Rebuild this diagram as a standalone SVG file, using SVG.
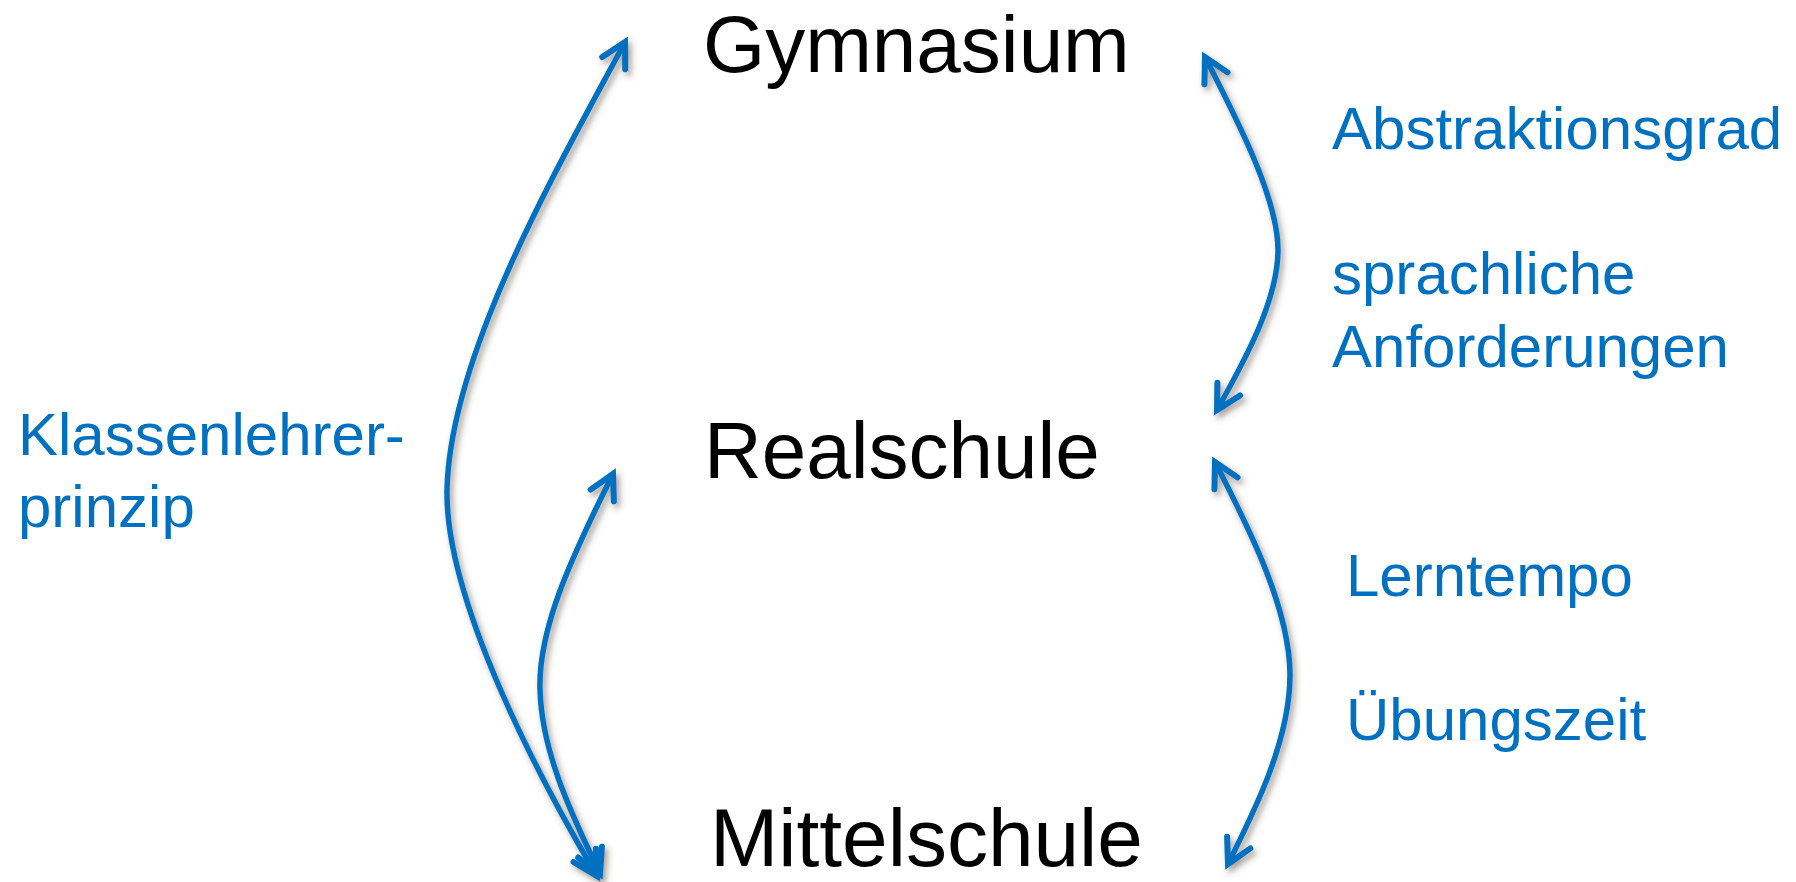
<svg xmlns="http://www.w3.org/2000/svg" width="1796" height="882" viewBox="0 0 1796 882">
<style>
.school{font-family:"Liberation Sans",Arial,sans-serif;font-size:80px;fill:#000}
.lbl{font-family:"Liberation Sans",Arial,sans-serif;font-size:60px;fill:#0070C0}
.conn{fill:none;stroke:#0070C0;stroke-width:5.5;stroke-linecap:butt;marker-start:url(#ah);marker-end:url(#ah)}
</style>
<defs>
<marker id="ah" markerUnits="userSpaceOnUse" markerWidth="40" markerHeight="40" viewBox="-30 -20 40 40" refX="0" refY="0" orient="auto-start-reverse" overflow="visible">
<path d="M-24,-13 L0,0 L-24,13" fill="none" stroke="#0070C0" stroke-width="6" stroke-linecap="round" stroke-linejoin="miter"/>
</marker>
<filter id="sh" x="-20%" y="-10%" width="140%" height="120%">
<feDropShadow dx="3" dy="4" stdDeviation="3" flood-color="#4a3a30" flood-opacity="0.5"/>
</filter>
</defs>
<rect width="1796" height="882" fill="#fff"/>
<g id="connectors" filter="url(#sh)">
<path class="conn" d="M625,42 C565,155 450,350 447,490 C445,600 540,780 597,876"/>
<path class="conn" d="M613,474 C570,560 538,630 540,690 C542,760 580,830 600,874"/>
<path class="conn" d="M1205,57 C1240,125 1278,200 1278,250 C1278,300 1245,360 1217,410"/>
<path class="conn" d="M1215,462 C1250,530 1290,610 1290,675 C1290,740 1255,810 1228,864"/>
</g>
<g id="gymnasium"><text class="school" x="703" y="72">Gymnasium</text></g>
<g id="realschule"><text class="school" x="704" y="478">Realschule</text></g>
<g id="mittelschule"><text class="school" x="710" y="866" style="font-size:82px">Mittelschule</text></g>
<g id="label-klassenlehrer"><text class="lbl" x="18" y="455">Klassenlehrer-</text><text class="lbl" x="18" y="527">prinzip</text></g>
<g id="label-abstraktion"><text class="lbl" x="1332" y="149">Abstraktionsgrad</text></g>
<g id="label-sprachlich"><text class="lbl" x="1332" y="294">sprachliche</text><text class="lbl" x="1332" y="367">Anforderungen</text></g>
<g id="label-lerntempo"><text class="lbl" x="1346" y="596">Lerntempo</text></g>
<g id="label-uebung"><text class="lbl" x="1346" y="740">Übungszeit</text></g>
</svg>
